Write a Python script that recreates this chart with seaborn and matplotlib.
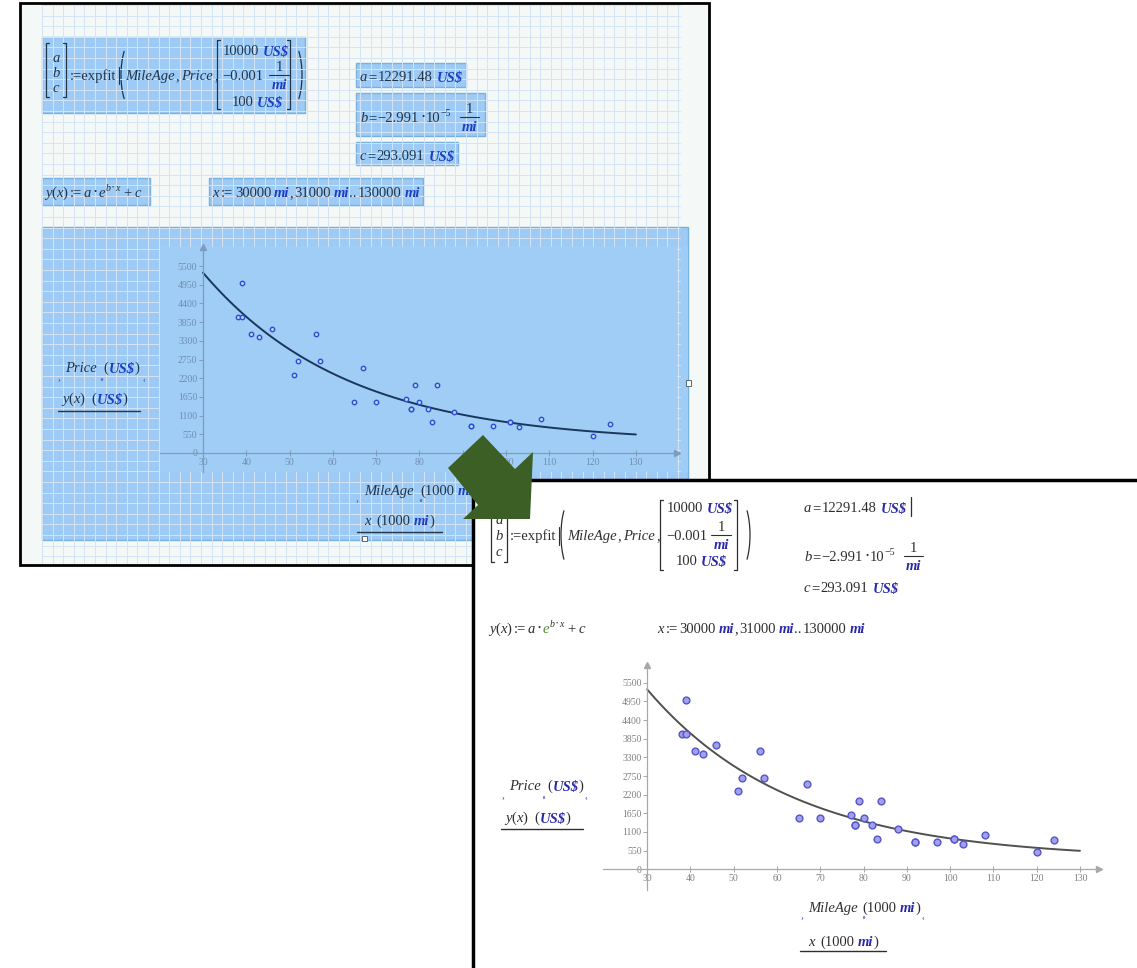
import numpy as np
import pandas as pd
import matplotlib
matplotlib.use("Agg")
import matplotlib.pyplot as plt
import seaborn as sns
from matplotlib.patches import Rectangle, Polygon, Arc

# used cars: mileage (1000 mi) and price (US$)
mileage = [38, 39, 39, 41, 43, 46, 51, 52, 56, 57, 65, 67, 70, 77, 78, 78,
           79, 80, 82, 83, 84, 88, 92, 92, 97, 101, 101, 103, 108, 120, 124]
price = [4000, 5000, 4000, 3500, 3400, 3650, 2300, 2700, 3500, 2700, 1500, 2500, 1500, 1600, 1300, 1300,
         2000, 1500, 1300, 900, 2000, 1200, 800, 800, 800, 900, 900, 750, 1000, 500, 850]

# expfit result shown on the sheet
fit_a = 12291.48
fit_b = -2.991e-5
fit_c = 293.091
x_range = np.arange(30000, 130001, 1000)   # x := 30000 mi, 31000 mi .. 130000 mi

price_ticks = [0, 550, 1100, 1650, 2200, 2750, 3300, 3850, 4400, 4950, 5500]
mile_ticks = [30, 40, 50, 60, 70, 80, 90, 100, 110, 120, 130]

df = pd.DataFrame({"mileage": mileage, "price": price})
y_fit = fit_a * np.exp(fit_b * x_range) + fit_c

W, H = 1137, 968
FS = 10.5

sns.set_theme(style="white")
plt.rcParams["font.family"] = ["Liberation Serif", "DejaVu Serif", "DejaVu Sans"]

fig = plt.figure(figsize=(W / 100, H / 100), dpi=100)
R = fig.canvas.get_renderer()


def canvas(z, clear=True):
    ax = fig.add_axes([0, 0, 1, 1], zorder=z)
    ax.set_xlim(0, W)
    ax.set_ylim(H, 0)
    ax.axis("off")
    if clear:
        ax.patch.set_visible(False)
    return ax


def run(ax, x, y, parts, col, ucol, gcol=None):
    # draw a row of differently styled pieces, left to right
    for p in parts:
        if not isinstance(p, tuple):
            x += p
            continue
        s, st = p
        kw = dict(fontsize=FS, color=col, fontstyle="normal", fontweight="normal")
        yy = y
        if "i" in st:
            kw["fontstyle"] = "italic"
        if "u" in st:
            kw.update(fontstyle="italic", fontweight="bold", color=ucol)
        if "d" in st:
            kw["fontsize"] = FS * 0.6
            yy = y - 3
        if "g" in st:
            kw["fontstyle"] = "italic"
            kw["color"] = gcol or col
        if "s" in st:
            kw["fontsize"] = kw["fontsize"] * 0.68
            yy = yy - 6
        t = ax.text(x, yy, s, va="baseline", ha="left", **kw)
        x += t.get_window_extent(R).width
    return x


def frac(ax, xc, yb, num, den, col, ucol):
    a = ax.text(xc, yb - 9, num, ha="center", va="baseline", fontsize=FS, color=col)
    b = ax.text(xc, yb + 9, den, ha="center", va="baseline", fontsize=FS, color=ucol,
                style="italic", weight="bold")
    w = max(a.get_window_extent(R).width, b.get_window_extent(R).width) + 4
    ax.plot([xc - w / 2, xc + w / 2], [yb - 5, yb - 5], color=col, lw=0.8)


def bracket(ax, x, y0, y1, side, col):
    d = 3 if side == "l" else -3
    ax.plot([x + d, x, x, x + d], [y0, y0, y1, y1], color=col, lw=0.9)


def paren(ax, x, y0, y1, side, col):
    w = 24
    if side == "l":
        ax.add_patch(Arc((x + w / 2, (y0 + y1) / 2), w, y1 - y0, theta1=110, theta2=250, color=col, lw=0.9))
    else:
        ax.add_patch(Arc((x - w / 2, (y0 + y1) / 2), w, y1 - y0, theta1=-70, theta2=70, color=col, lw=0.9))


def mark(ax, x, y, s, col):
    ax.text(x, y, s, fontsize=6, color=col, ha="center", va="baseline")


def mathcad_plot(px, xlim, ylim, axcol, labcol, curve_col, pt_face, pt_edge, pt_size, z, face=None):
    x0, y0, x1, y1 = px
    ax = fig.add_axes([x0 / W, 1 - y1 / H, (x1 - x0) / W, (y1 - y0) / H], zorder=z)
    if face:
        ax.set_facecolor(face)
    else:
        ax.patch.set_visible(False)
    sns.lineplot(x=x_range / 1000, y=y_fit, ax=ax, color=curve_col, lw=1.4)
    sns.scatterplot(data=df, x="mileage", y="price", ax=ax, s=pt_size, color=pt_face,
                    edgecolor=pt_edge, linewidth=1.0, zorder=3)
    ax.set_xlim(xlim)
    ax.set_ylim(ylim)
    ax.set_xlabel("")
    ax.set_ylabel("")
    ax.spines["top"].set_visible(False)
    ax.spines["right"].set_visible(False)
    ax.spines["left"].set_position(("data", 30))
    ax.spines["bottom"].set_position(("data", 0))
    for side in ["left", "bottom"]:
        ax.spines[side].set_color(axcol)
        ax.spines[side].set_linewidth(0.9)
    ax.set_xticks(mile_ticks)
    ax.set_yticks(price_ticks)
    ax.tick_params(axis="y", direction="out", length=3, width=0.7, color=axcol,
                   labelsize=7, labelcolor=labcol, pad=1, left=True)
    ax.tick_params(axis="x", direction="inout", length=5, width=0.7, color=axcol,
                   labelsize=7, labelcolor=labcol, pad=1, bottom=True)
    ax.plot([30], [ylim[1]], marker="^", ms=4, color=axcol, clip_on=False)
    ax.plot([xlim[1]], [0], marker=">", ms=4, color=axcol, clip_on=False)
    return ax


def fit_row(ax, x, y, col, ucol, gcol=None):
    run(ax, x, y, [("y", "i"), ("(", "n"), ("x", "i"), (")", "n"), 2, (":=", "n"), 2, ("a", "i"), 2,
                   ("•", "d"), 2, ("e", "g"), 1, ("b", "si"), 1, ("•", "sd"), 1, ("x", "si"), 4, ("+", "n"),
                   3, ("c", "i")], col, ucol, gcol)


def range_row(ax, x, y, col, ucol):
    run(ax, x, y, [("x", "i"), 2, (":=", "n"), 2, ("30000", "n"), 3, ("mi", "u"), (",", "n"), 1,
                   ("31000", "n"), 3, ("mi", "u"), ("..", "n"), 1, ("130000", "n"), 3, ("mi", "u")], col, ucol)


def args_row(ax, x, y, col, ucol):
    run(ax, x, y, [("MileAge", "i"), 1, (",", "n"), 2, ("Price", "i"), 1, (",", "n")], col, ucol)


# ---------------- upper (old) worksheet ----------------
ax0 = canvas(0, clear=False)
UT, UU = "#22344a", "#1c3fc0"
BOX_FC, BOX_EC, PLOT_BG = "#8fc4f5", "#78b0e0", "#a0cdf5"

ax0.add_patch(Rectangle((20, 3), 689, 562, fc="#f4f8f6", ec="none"))
for gx in np.arange(42, 681, 10.6):
    ax0.plot([gx, gx], [5, 563], color="#d3e4f4", lw=0.7)
for gy in np.arange(5, 564, 10.6):
    ax0.plot([42, 680], [gy, gy], color="#d3e4f4", lw=0.7)

for (bx0, by0, bx1, by1) in [(42, 37, 305, 113), (356, 63, 466, 87), (356, 93, 485, 136),
                             (356, 142, 458, 165), (42, 178, 150, 205), (209, 178, 423, 205),
                             (42, 227, 688, 540)]:
    ax0.add_patch(Rectangle((bx0, by0), bx1 - bx0, by1 - by0, fc=BOX_FC, alpha=0.85, ec="none"))
    ax0.add_patch(Rectangle((bx0, by0), bx1 - bx0, by1 - by0, fc="none", ec=BOX_EC, lw=1))
ax0.add_patch(Rectangle((160, 246), 528, 226, fc=PLOT_BG, ec="none"))

# [a b c] := expfit(MileAge, Price, [...])
bracket(ax0, 46, 43, 97, "l", UT)
bracket(ax0, 66, 43, 97, "r", UT)
for s, yb in zip("abc", [62, 77, 92]):
    ax0.text(56, yb, s, style="italic", ha="center", va="baseline", fontsize=FS, color=UT)
run(ax0, 70, 80, [(":=expfit", "n")], UT, UU)
ax0.plot([119, 119], [67, 84], color=UT, lw=0.8)
paren(ax0, 121, 40, 110, "l", UT)
args_row(ax0, 125, 80, UT, UU)
bracket(ax0, 217, 40, 109, "l", UT)
bracket(ax0, 290, 40, 109, "r", UT)
paren(ax0, 302, 40, 110, "r", UT)
run(ax0, 223, 55, [("10000", "n"), 3, ("US$", "u")], UT, UU)
run(ax0, 222, 80, [("−0.001", "n")], UT, UU)
frac(ax0, 279, 80, "1", "mi", UT, UU)
run(ax0, 232, 106, [("100", "n"), 3, ("US$", "u")], UT, UU)

# results
run(ax0, 360, 81, [("a", "i"), 1, ("=", "n"), 1, ("12291.48", "n"), 4, ("US$", "u")], UT, UU)
xb = run(ax0, 360, 122, [("b", "i"), 1, ("=", "n"), 1, ("−2.991", "n"), 2, ("•", "d"), 2, ("10", "n"),
                         ("−5", "s")], UT, UU)
frac(ax0, xb + 18, 122, "1", "mi", UT, UU)
run(ax0, 360, 160, [("c", "i"), 1, ("=", "n"), 1, ("293.091", "n"), 4, ("US$", "u")], UT, UU)

fit_row(ax0, 45, 197, UT, UU)
range_row(ax0, 212, 197, UT, UU)

# axis labels of the old plot
run(ax0, 65, 372, [("Price", "i"), 7, ("(", "n"), ("US$", "u"), (")", "n")], UT, UU)
run(ax0, 62, 403, [("y", "i"), ("(", "n"), ("x", "i"), (")", "n"), 7, ("(", "n"), ("US$", "u"), (")", "n")], UT, UU)
ax0.plot([58, 140], [411, 411], color=UT, lw=1)
mark(ax0, 59, 382, "›", UU)
mark(ax0, 101, 382, "∘", UU)
mark(ax0, 144, 382, "‹", UU)
run(ax0, 364, 495, [("MileAge", "i"), 7, ("(1000", "n"), 3, ("mi", "u"), (")", "n")], UT, UU)
run(ax0, 364, 525, [("x", "i"), 6, ("(1000", "n"), 3, ("mi", "u"), (")", "n")], UT, UU)
ax0.plot([357, 442], [532, 532], color=UT, lw=1)
mark(ax0, 357, 503, "›", UU)
mark(ax0, 420, 503, "∘", UU)
ax0.add_patch(Rectangle((362, 536), 5, 5, fc="white", ec="#556677", lw=0.7))
ax0.add_patch(Rectangle((686, 380), 5, 6, fc="white", ec="#556677", lw=0.7))

ax0.add_patch(Rectangle((20, 3), 689, 562, fc="none", ec="black", lw=2))

mathcad_plot((160, 247, 677, 472), (20.07, 139.5), (-559, 6059), "#7d9cc0", "#6f8db0",
             "#1b365d", "#b8d4f8", "#2b4fcf", 10, z=1, face=PLOT_BG)

# ---------------- lower (new) worksheet ----------------
ax2 = canvas(2)
LT, LU, LG = "#2e2e2e", "#2a2aa8", "#4d8a2e"
ax2.add_patch(Rectangle((473, 480), W - 473, H - 480, fc="white", ec="none"))
ax2.plot([473, 473, W], [H, 480, 480], color="black", lw=2.5)

bracket(ax2, 491, 503, 562, "l", LT)
bracket(ax2, 507, 503, 562, "r", LT)
for s, yb in zip("abc", [524, 540, 556]):
    ax2.text(499, yb, s, style="italic", ha="center", va="baseline", fontsize=FS, color=LT)
run(ax2, 510, 540, [(":=expfit", "n")], LT, LU)
ax2.plot([559, 559], [527, 545], color=LT, lw=0.8)
paren(ax2, 561, 498, 572, "l", LT)
args_row(ax2, 567, 540, LT, LU)
bracket(ax2, 660, 500, 570, "l", LT)
bracket(ax2, 737, 500, 570, "r", LT)
paren(ax2, 750, 498, 572, "r", LT)
run(ax2, 667, 512, [("10000", "n"), 3, ("US$", "u")], LT, LU)
run(ax2, 666, 540, [("−0.001", "n")], LT, LU)
frac(ax2, 721, 540, "1", "mi", LT, LU)
run(ax2, 676, 565, [("100", "n"), 3, ("US$", "u")], LT, LU)

xa = run(ax2, 804, 512, [("a", "i"), 1, ("=", "n"), 1, ("12291.48", "n"), 4, ("US$", "u")], LT, LU)
ax2.plot([xa + 4, xa + 4], [497, 516], color=LT, lw=0.9)
xb = run(ax2, 804, 561, [("b", "i"), 1, ("=", "n"), 1, ("−2.991", "n"), 2, ("•", "d"), 2, ("10", "n"),
                         ("−5", "s")], LT, LU)
frac(ax2, xb + 18, 561, "1", "mi", LT, LU)
run(ax2, 804, 592, [("c", "i"), 1, ("=", "n"), 1, ("293.091", "n"), 4, ("US$", "u")], LT, LU)

fit_row(ax2, 489, 633, LT, LU, LG)
range_row(ax2, 657, 633, LT, LU)

run(ax2, 509, 790, [("Price", "i"), 7, ("(", "n"), ("US$", "u"), (")", "n")], LT, LU)
run(ax2, 505, 822, [("y", "i"), ("(", "n"), ("x", "i"), (")", "n"), 7, ("(", "n"), ("US$", "u"), (")", "n")], LT, LU)
ax2.plot([501, 583], [829, 829], color=LT, lw=1)
mark(ax2, 503, 800, "›", LU)
mark(ax2, 543, 800, "∘", LU)
mark(ax2, 586, 800, "‹", LU)
run(ax2, 808, 912, [("MileAge", "i"), 5, ("(1000", "n"), 3, ("mi", "u"), (")", "n")], LT, LU)
run(ax2, 808, 946, [("x", "i"), 6, ("(1000", "n"), 3, ("mi", "u"), (")", "n")], LT, LU)
ax2.plot([800, 886], [951, 951], color=LT, lw=1)
mark(ax2, 802, 920, "›", LU)
mark(ax2, 863, 920, "∘", LU)
mark(ax2, 923, 920, "‹", LU)

mathcad_plot((603, 665, 1099, 890), (19.8, 134.4), (-610, 6022), "#a8a8a8", "#808080",
             "#505050", "#a0a0ec", "#5555c8", 24, z=3)

# ---------------- green arrow ----------------
ax4 = canvas(4)
ax4.add_patch(Polygon([(483, 435), (515, 469), (533, 452), (530, 519), (463, 519), (478, 505), (448, 468)],
                      closed=True, fc="#3b5f24", ec="none"))

fig.savefig("out.png", dpi=100)
